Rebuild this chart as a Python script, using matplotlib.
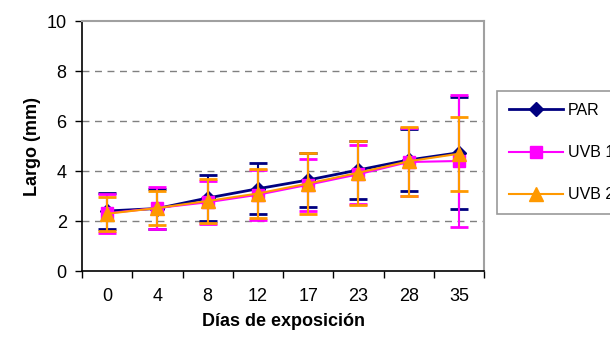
import matplotlib
matplotlib.use("Agg")
import matplotlib.pyplot as plt
from matplotlib.lines import Line2D
import numpy as np

plt.rcParams['font.family'] = ['Liberation Sans', 'DejaVu Sans']

days = ["0", "4", "8", "12", "17", "23", "28", "35"]
par_mean = [2.40, 2.50, 2.92, 3.29, 3.64, 4.04, 4.44, 4.73]
par_err = [0.73, 0.80, 0.92, 1.02, 1.07, 1.16, 1.23, 2.24]
uvb1_mean = [2.31, 2.52, 2.75, 3.05, 3.45, 3.87, 4.36, 4.40]
uvb1_err = [0.77, 0.85, 0.87, 1.00, 1.04, 1.18, 1.35, 2.63]
uvb2_mean = [2.29, 2.52, 2.80, 3.10, 3.50, 3.93, 4.39, 4.69]
uvb2_err = [0.69, 0.68, 0.89, 0.99, 1.23, 1.28, 1.39, 1.48]

W, H = 610, 347
fig = plt.figure(figsize=(W / 100, H / 100), dpi=100)
ax = fig.add_axes([82 / W, 1 - 271 / H, (484 - 82) / W, (271 - 21) / H])

x = np.arange(len(days))
series = [
    ("PAR", par_mean, par_err, "#000080", "D", 7, 2.0),
    ("UVB 1", uvb1_mean, uvb1_err, "#FF00FF", "s", 8, 1.5),
    ("UVB 2", uvb2_mean, uvb2_err, "#FF9900", "^", 10, 1.5),
]
handles = []
for i, (name, m, e, c, mk, ms, lw) in enumerate(series):
    ax.errorbar(x, m, yerr=e, color=c, ecolor=c, elinewidth=1.5, capsize=6.5,
                capthick=2, marker=mk, markersize=ms, markeredgecolor=c,
                markerfacecolor=c, linewidth=lw, zorder=3 + i)
    handles.append(Line2D([], [], color=c, marker=mk, markersize=ms,
                          markeredgecolor=c, markerfacecolor=c, linewidth=lw))

ax.set_xlim(-0.5, len(days) - 0.5)
ax.set_ylim(0, 10)
ax.set_yticks(range(0, 11, 2))
ax.set_xticks(x)
ax.set_xticklabels(days)
ax.set_xticks(np.arange(-0.5, len(days), 1.0), minor=True)
ax.tick_params(axis='x', which='major', length=0, labelsize=13, pad=12)
ax.tick_params(axis='x', which='minor', length=5, width=1, direction='out', color='black')
ax.tick_params(axis='y', length=5, width=1, direction='out', labelsize=13, pad=6)

for yv in [2, 4, 6, 8]:
    ax.axhline(yv, color='#808080', linestyle=(0, (5, 4)), linewidth=1, zorder=1)

ax.spines['left'].set_color('black')
ax.spines['bottom'].set_color('black')
ax.spines['left'].set_linewidth(1.2)
ax.spines['bottom'].set_linewidth(1.2)
ax.spines['top'].set_color('#A0A0A0')
ax.spines['right'].set_color('#A0A0A0')
ax.spines['top'].set_linewidth(1.5)
ax.spines['right'].set_linewidth(1.5)

ax.set_xlabel("Días de exposición", fontsize=13, fontweight='bold', labelpad=6)
ax.set_ylabel("Largo (mm)", fontsize=13, fontweight='bold', labelpad=4)

leg = fig.legend(handles, [s[0] for s in series], loc='upper left',
                 bbox_to_anchor=(497 / W, 1 - 91 / H), frameon=True, fancybox=False,
                 edgecolor='#808080', fontsize=11.5, handlelength=3.4,
                 labelspacing=1.7, borderpad=0.75, handletextpad=0.3,
                 borderaxespad=0)
leg.get_frame().set_linewidth(1.2)

fig.savefig("out.png", dpi=100)
